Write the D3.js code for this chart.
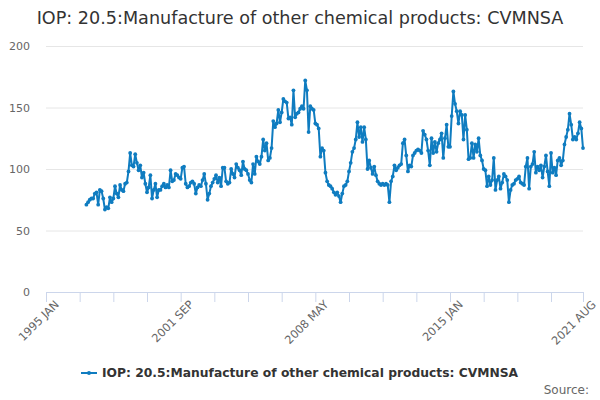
<!DOCTYPE html>
<meta charset="utf-8">
<script src="https://d3js.org/d3.v7.min.js"></script>
<style>
  body { margin: 0; background: #fff; }
  text { font-family: "DejaVu Sans", sans-serif; }
</style>
<div id="my_dataviz"></div>
<script>

// series: monthly values, 1997 JAN .. 2021 AUG
var startMonth = 24; // months after 1995 JAN
var values = [
  71, 73, 75, 76, 76, 80, 81, 71, 83, 82, 76, 67,
  69, 68, 77, 73, 76, 86, 80, 77, 87, 83, 82, 88,
  89, 98, 113, 103, 102, 112, 105, 99, 103, 93, 97, 88,
  81, 85, 95, 76, 83, 88, 77, 83, 83, 86, 88, 85,
  87, 85, 99, 90, 91, 96, 95, 93, 92, 101, 102, 88,
  85, 86, 89, 90, 88, 80, 85, 87, 86, 91, 96, 88,
  75, 80, 86, 89, 92, 95, 89, 93, 86, 101, 101, 90,
  88, 89, 100, 96, 93, 104, 101, 99, 95, 106, 100, 99,
  96, 91, 89, 104, 96, 110, 106, 104, 110, 124, 115, 121,
  107, 109, 117, 139, 134, 137, 148, 138, 146, 157, 155, 154,
  141, 142, 136, 164, 142, 145, 146, 149, 151, 149, 172, 164,
  130, 151, 149, 148, 137, 136, 133, 110, 117, 115, 97, 90,
  87, 86, 84, 81, 79, 81, 78, 73, 80, 86, 87, 90,
  98, 105, 114, 117, 124, 138, 126, 134, 122, 134, 124, 100,
  107, 101, 96, 102, 95, 90, 88, 87, 88, 87, 88, 87,
  73, 90, 94, 103, 99, 101, 103, 104, 121, 124, 111, 98,
  103, 102, 111, 113, 115, 116, 115, 113, 131, 128, 124, 115,
  103, 125, 113, 122, 114, 121, 124, 129, 109, 125, 136, 118,
  118, 143, 163, 153, 147, 137, 147, 144, 124, 144, 132, 108,
  109, 121, 109, 120, 114, 125, 111, 107, 100, 99, 86, 94,
  87, 91, 109, 83, 91, 94, 84, 89, 96, 94, 91, 73,
  83, 87, 88, 91, 92, 94, 89, 88, 87, 102, 109, 84,
  102, 104, 114, 97, 102, 99, 103, 93, 102, 111, 98, 86,
  113, 97, 101, 95, 107, 109, 103, 107, 120, 126, 132, 145,
  136, 124, 126, 124, 129, 138, 133, 117
];
var monthNames = ["JAN","FEB","MAR","APR","MAY","JUN","JUL","AUG","SEP","OCT","NOV","DEC"];
var yTicks = [0, 50, 100, 150, 200];
var xTickEvery = 20;            // months between axis ticks
var xLabelMonths = [0, 80, 160, 240, 319];
var lastMonth = 319;            // 2021 AUG
var seriesName = "IOP: 20.5:Manufacture of other chemical products: CVMNSA";

var data = values.map(function(v, i) { return {m: startMonth + i, v: v}; });

var width = 600, height = 400;
var margin = {top: 46, right: 17, bottom: 108, left: 46};

var svg = d3.select("#my_dataviz")
  .append("svg")
    .attr("width", width)
    .attr("height", height);

var x = d3.scaleLinear()
  .domain([0, lastMonth])
  .range([margin.left, width - margin.right]);

var y = d3.scaleLinear()
  .domain([0, 200])
  .range([height - margin.bottom, margin.top]);

// title
svg.append("text")
  .attr("x", width / 2)
  .attr("y", 24)
  .attr("text-anchor", "middle")
  .style("font-size", "17.6px")
  .style("fill", "#333")
  .text(seriesName);

// gridlines + y labels
var yAxis = svg.append("g")
  .attr("transform", "translate(" + margin.left + ",0)")
  .call(d3.axisLeft(y).tickValues(yTicks)
    .tickSize(-(width - margin.left - margin.right)).tickPadding(16));
yAxis.select(".domain").remove();
yAxis.selectAll("line").attr("stroke", "#e6e6e6");
yAxis.selectAll("text")
  .style("font-size", "11px")
  .style("fill", "#666")
  .attr("dy", "0.35em");

// x axis
var monthLabel = function(m) {
  return (1995 + Math.floor(m / 12)) + " " + monthNames[m % 12];
};
var xTicks = d3.range(0, lastMonth, xTickEvery).concat([lastMonth]);
var xAxis = svg.append("g")
  .attr("transform", "translate(0," + y(0) + ")")
  .call(d3.axisBottom(x).tickValues(xTicks).tickSize(10).tickSizeOuter(0)
    .tickFormat(function(m) { return xLabelMonths.indexOf(m) >= 0 ? monthLabel(m) : ""; }));
xAxis.select(".domain").attr("stroke", "#ccd6eb");
xAxis.selectAll("line").attr("stroke", "#ccd6eb");
xAxis.selectAll("text")
  .style("font-size", "11.3px")
  .style("fill", "#666")
  .style("text-anchor", "end")
  .attr("dy", null)
  .attr("transform", "translate(4,4)rotate(-45)");

// line
var color = "#0f7cc0";
svg.append("path")
  .datum(data)
  .attr("fill", "none")
  .attr("stroke", color)
  .attr("stroke-width", 2)
  .attr("stroke-linejoin", "round")
  .attr("d", d3.line()
    .x(function(d) { return x(d.m); })
    .y(function(d) { return y(d.v); }));

svg.selectAll("circle.pt")
  .data(data)
  .enter()
  .append("circle")
    .attr("class", "pt")
    .attr("cx", function(d) { return x(d.m); })
    .attr("cy", function(d) { return y(d.v); })
    .attr("r", 1.9)
    .attr("fill", color);

// legend
var legend = svg.append("g").attr("transform", "translate(81,373)");
legend.append("line")
  .attr("x1", 0).attr("x2", 16)
  .attr("stroke", color).attr("stroke-width", 2);
legend.append("circle")
  .attr("cx", 8).attr("r", 2).attr("fill", color);
legend.append("text")
  .attr("x", 21)
  .attr("dy", "0.35em")
  .style("font-size", "12.3px")
  .style("font-weight", "bold")
  .style("fill", "#333")
  .text(seriesName);

// source
svg.append("text")
  .attr("x", 589)
  .attr("y", 394)
  .attr("text-anchor", "end")
  .style("font-size", "12px")
  .style("fill", "#666")
  .text("Source:");

</script>
